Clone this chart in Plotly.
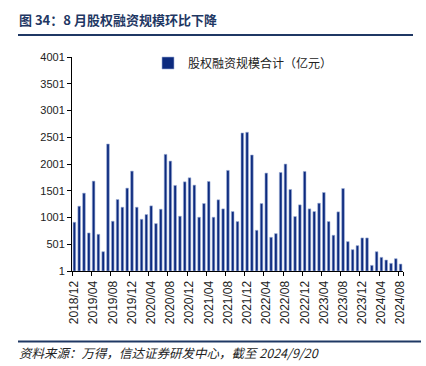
import plotly.graph_objects as go

months = []
y, m = 2018, 12
for _ in range(69):
    months.append(f"{y}/{m:02d}")
    m += 1
    if m > 12:
        m = 1
        y += 1

values = [912, 1212, 1456, 712, 1681, 687, 362, 2375, 931, 1337, 1193, 1550,
          1868, 1193, 968, 1056, 1218, 887, 1156, 2181, 2056, 1600, 1025, 1668,
          1743, 1606, 1006, 1262, 1675, 1006, 1331, 1162, 1881, 1112, 925, 2581,
          2594, 2169, 762, 1262, 1831, 631, 700, 1843, 2000, 1525, 1019, 1237,
          1862, 1162, 1112, 1268, 1468, 925, 669, 1106, 1543, 550, 400, 475,
          619, 619, 106, 362, 256, 206, 144, 231, 131]

tick_labels = months[::4]
y_ticks = [1, 501, 1001, 1501, 2001, 2501, 3001, 3501, 4001]

series_name = "股权融资规模合计（亿元）"
title_text = "图 34：8 月股权融资规模环比下降"
source_text = "资料来源：万得，信达证券研发中心，截至 2024/9/20"

L, T, B, R = 72, 57, 95, 23
PW = 426 - L - R
PH = 366 - T - B

def px_x(x):
    return (x - L) / PW

def px_y(y):
    return (366 - B - y) / PH

fig = go.Figure()
fig.add_trace(go.Bar(
    x=months, y=values, name=series_name,
    marker=dict(color="#0c2a7e", line=dict(color="#9fb0d8", width=0.6)),
    width=0.55,
))

fig.update_layout(
    width=426, height=366,
    margin=dict(l=L, r=R, t=T, b=B),
    paper_bgcolor="white", plot_bgcolor="white",
    showlegend=True,
    legend=dict(x=px_x(148), y=px_y(63), xanchor="left", yanchor="middle",
                orientation="h", bgcolor="rgba(0,0,0,0)",
                font=dict(family="Noto Sans CJK SC", size=12, color="#222"),
                itemwidth=30),
    xaxis=dict(type="category", tickmode="array", tickvals=tick_labels,
               ticktext=tick_labels, tickangle=-90, tickson="boundaries",
               ticks="outside", ticklen=4, tickcolor="black",
               ticklabelstandoff=4,
               showline=True, linecolor="black", linewidth=1,
               showgrid=False,
               tickfont=dict(family="Liberation Sans", size=12, color="#222")),
    yaxis=dict(range=[1, 4001], tickmode="array", tickvals=y_ticks,
               ticks="outside", ticklen=4, tickcolor="black",
               showline=True, linecolor="black", linewidth=1,
               showgrid=False, zeroline=False,
               tickfont=dict(family="Liberation Sans", size=11, color="#222")),
)

fig.add_annotation(text=f"<b>{title_text}</b>", xref="paper", yref="paper",
                   x=px_x(17), y=px_y(20), xanchor="left", yanchor="middle",
                   showarrow=False,
                   font=dict(family="Noto Sans CJK SC", size=13, color="#1f3864"))
fig.add_annotation(text=source_text, xref="paper", yref="paper",
                   x=px_x(17), y=px_y(352), xanchor="left", yanchor="middle",
                   showarrow=False,
                   font=dict(family="Noto Sans CJK SC", size=12.5, color="#222", style="italic"))

fig.add_shape(type="line", xref="paper", yref="paper",
              x0=px_x(18), x1=px_x(413), y0=px_y(35), y1=px_y(35),
              line=dict(color="#1f3864", width=2))
fig.add_shape(type="line", xref="paper", yref="paper",
              x0=px_x(18), x1=px_x(421), y0=px_y(341.5), y1=px_y(341.5),
              line=dict(color="#1f3864", width=2))

fig.write_html("out.html", config={"displayModeBar": False},
               post_script="document.body.style.margin='0';")
